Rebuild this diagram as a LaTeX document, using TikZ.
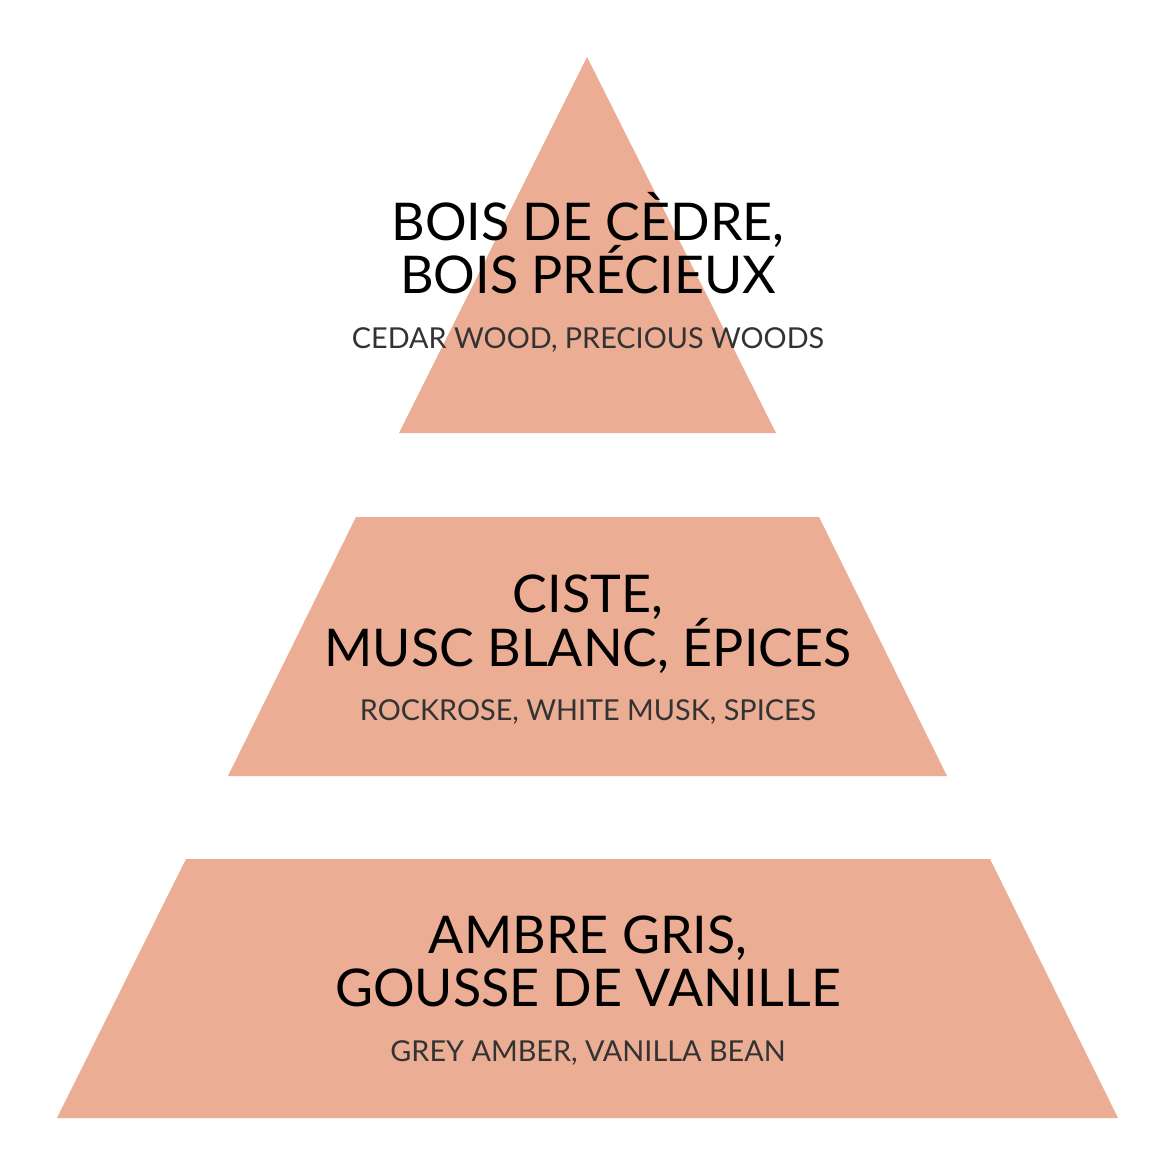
\documentclass[tikz,border=0pt]{standalone}
\usepackage{fontspec}
\setmainfont{Lato}
\usepackage{tikz}
\usetikzlibrary{positioning}
\definecolor{salmon}{HTML}{EBAD93}
\definecolor{subgray}{HTML}{333333}
\begin{document}
\begin{tikzpicture}[x=0.5pt,y=-0.5pt,%
	tier/.style={fill=salmon,draw=none},%
	ttl/.style={anchor=base,inner sep=0pt,text=black,%
		font=\fontsize{26}{26}\selectfont},%
	sub/.style={anchor=base,inner sep=0pt,text=subgray,%
		font=\fontsize{14.4}{14.4}\selectfont}]
	\useasboundingbox[fill=white] (0,0) rectangle (1176,1176);
	% pyramid tiers
	\coordinate (tA) at (587,57);
	\coordinate (tL) at (399,433);
	\coordinate (tR) at (776,433);
	\fill[tier] (tA) -- (tR) -- (tL) -- cycle;
	\coordinate (mTL) at (356,517);
	\coordinate (mTR) at (819,517);
	\coordinate (mBR) at (947,776);
	\coordinate (mBL) at (228,776);
	\fill[tier] (mTL) -- (mTR) -- (mBR) -- (mBL) -- cycle;
	\coordinate (bTL) at (186,859);
	\coordinate (bTR) at (990,859);
	\coordinate (bBR) at (1118,1118);
	\coordinate (bBL) at (57,1118);
	\fill[tier] (bTL) -- (bTR) -- (bBR) -- (bBL) -- cycle;
	% top notes
	\node[ttl] (top1) at (588,241) {BOIS DE CÈDRE,};
	\node[ttl] (top2) at (588,294) {BOIS PRÉCIEUX};
	\node[sub] (top3) at (588,348) {CEDAR WOOD, PRECIOUS WOODS};
	% heart notes
	\node[ttl] (mid1) at (588,612) {CISTE,};
	\node[ttl] (mid2) at (588,666) {MUSC BLANC, ÉPICES};
	\node[sub] (mid3) at (588,720) {ROCKROSE, WHITE MUSK, SPICES};
	% base notes
	\node[ttl] (bot1) at (588,953) {AMBRE GRIS,};
	\node[ttl] (bot2) at (588,1006) {GOUSSE DE VANILLE};
	\node[sub] (bot3) at (588,1061) {GREY AMBER, VANILLA BEAN};
\end{tikzpicture}
\end{document}
